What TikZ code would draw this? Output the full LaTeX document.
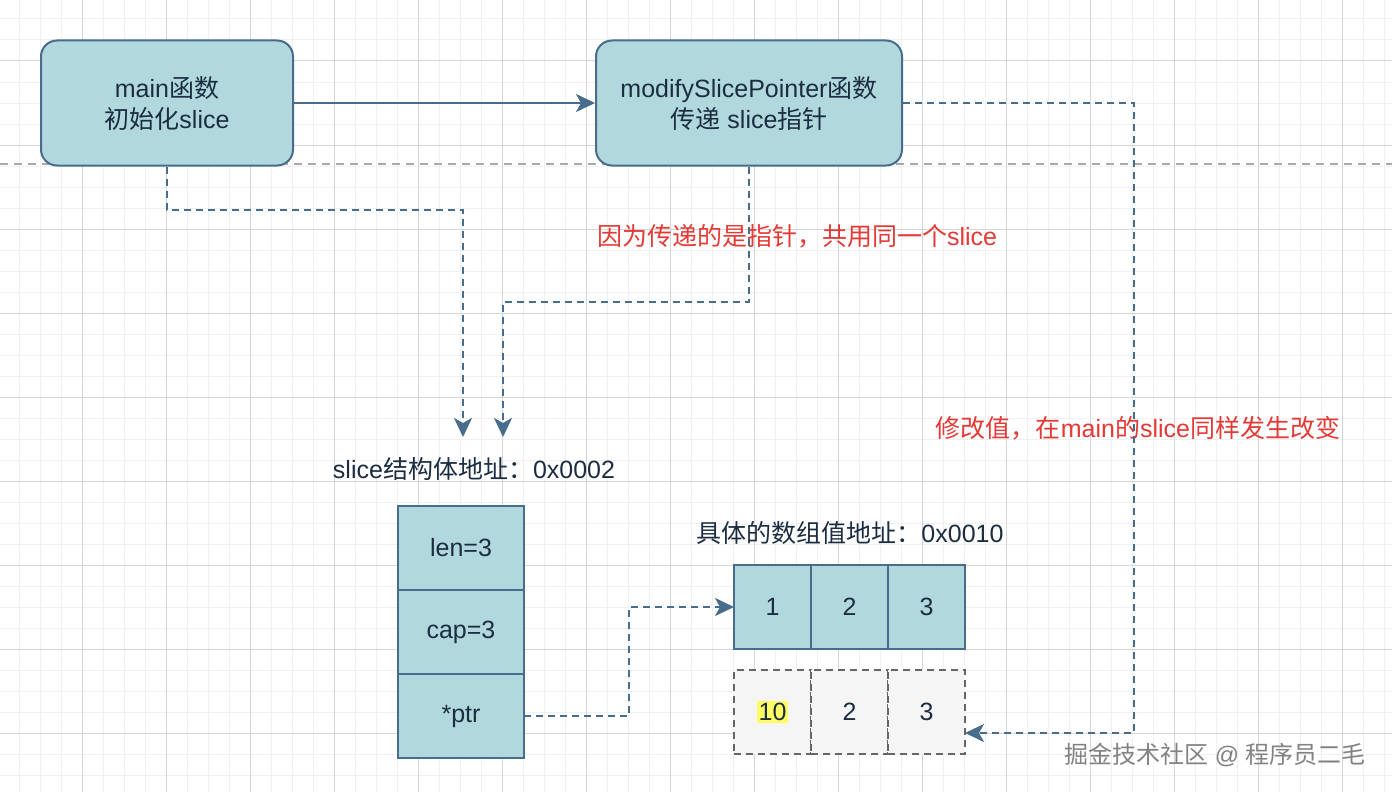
\documentclass[tikz,border=0pt]{standalone}
\usepackage{fontspec}
\setmainfont{Liberation Sans}
\newfontfamily\cjk{Noto Sans CJK SC}
\usepackage{xcolor}
\usetikzlibrary{positioning,arrows.meta}
\newcommand{\bodyfont}{\fontsize{25}{31}\selectfont}
\definecolor{boxfill}{RGB}{177,217,221}
\definecolor{boxline}{RGB}{72,108,140}
\definecolor{inkc}{RGB}{28,45,66}
\definecolor{notec}{RGB}{229,57,53}
\definecolor{ghostfill}{RGB}{245,245,245}
\definecolor{ghostline}{RGB}{102,102,102}
\definecolor{gridlo}{RGB}{240,240,240}
\definecolor{gridhi}{RGB}{214,214,214}
\definecolor{breakc}{RGB}{170,170,170}
\definecolor{hly}{RGB}{255,255,100}
\definecolor{wmc}{RGB}{130,130,130}
\tikzset{
  fnbox/.style  = {draw=boxline, line width=2pt, fill=boxfill, rounded corners=16pt,
                   align=center, text=inkc, font=\bodyfont,
                   minimum width=252pt, minimum height=125pt},
  cell/.style   = {draw=boxline, line width=2pt, fill=boxfill, text=inkc, font=\bodyfont,
                   minimum width=77pt, minimum height=84pt, outer sep=0pt},
  ghost/.style  = {cell, draw=ghostline, fill=ghostfill, dash pattern=on 7pt off 5pt},
  call/.style   = {-{Stealth[length=19pt, width=18pt, inset=5pt]}, line width=2pt, draw=boxline},
  ref/.style    = {call, dash pattern=on 7pt off 5pt},
  note/.style   = {text=notec, font=\bodyfont},
  addr/.style   = {text=inkc, font=\bodyfont},
  wmark/.style  = {text=wmc, font=\fontsize{24}{28}\selectfont},
  gridminor/.style = {draw=gridlo, line width=1pt},
  gridmajor/.style = {draw=gridhi, line width=1pt},
  pagebreak/.style = {draw=breakc, line width=1.5pt, dash pattern=on 8pt off 6pt},
}

\begin{document}
\begin{tikzpicture}[x=1pt, y=-1pt]
\useasboundingbox (0,0) rectangle (1392,792);
\fill[white] (0,0) rectangle (1392,792);

% ---- background grid ----
\foreach \k in {0,...,66} \draw[gridminor] ({-2+21*\k},0) -- ({-2+21*\k},792);
\foreach \k in {0,...,38} \draw[gridminor] (0,{-23+21*\k}) -- (1392,{-23+21*\k});
\foreach \k in {0,...,16} \draw[gridmajor] ({-2+84*\k},0) -- ({-2+84*\k},792);
\foreach \k in {0,...,9} \draw[gridmajor] (0,{-23+84*\k}) -- (1392,{-23+84*\k});
\draw[pagebreak] (0,164) -- (1392,164);

% ---- the two functions ----
\node[fnbox] (mainfn) at (167,103) {main{\cjk 函数}\\{\cjk 初始化}slice};
\node[fnbox, minimum width=306pt] (modfn) at (749,103)
  {modifySlicePointer{\cjk 函数}\\{\cjk 传递} slice{\cjk 指针}};
\draw[call] (mainfn) -- (modfn);

% ---- the slice header ----
\node[addr] (saddr) at (474,469) {slice{\cjk 结构体地址：}0x0002};
\node[cell, minimum width=126pt] (len) at (461,548) {len=3};
\node[cell, minimum width=126pt, below=0 of len] (cap) {cap=3};
\node[cell, minimum width=126pt, below=0 of cap] (ptr) {*ptr};
\coordinate (in1) at (463,437);
\coordinate (in2) at (503,437);

% ---- the backing array, before and after ----
\node[addr] (aaddr) at (850,533) {{\cjk 具体的数组值地址：}0x0010};
\node[cell] (a1) at (772.5,607) {1};
\node[cell, right=0 of a1] (a2) {2};
\node[cell, right=0 of a2] (a3) {3};
\node[ghost] (b1) at (772.5,712) {{\fboxsep=2pt\colorbox{hly}{10}}};
\node[ghost, right=0 of b1] (b2) {2};
\node[ghost, right=0 of b2] (b3) {3};

% ---- notes ----
\node[note] (note1) at (797,236) {{\cjk 因为传递的是指针，共用同一个}slice};
\node[note] (note2) at (1138,428) {{\cjk 修改值，在}main{\cjk 的}slice{\cjk 同样发生改变}};

% ---- references ----
\draw[ref] (mainfn.south) -- ++(0,43) -| (in1);
\draw[ref] (modfn.south) -- ++(0,135) -| (in2);
\draw[ref] (ptr.east) -- ++(105,0) |- (a1.west);
\draw[ref] (modfn.east) -- ++(231,0) |- ([yshift=-21pt]b3.east);

\node[wmark] (wm) at (1215,755) {{\cjk 掘金技术社区} @ {\cjk 程序员二毛}};

\end{tikzpicture}
\end{document}
